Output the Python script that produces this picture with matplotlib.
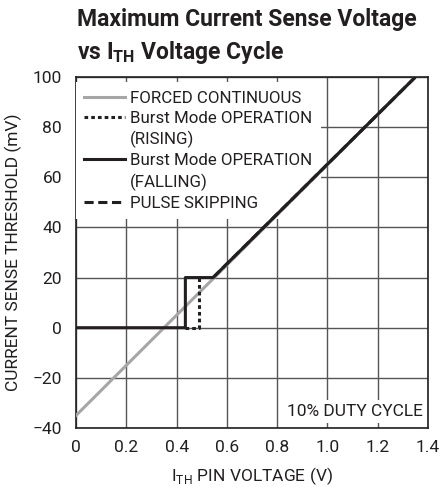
import matplotlib
matplotlib.use('Agg')
import matplotlib.pyplot as plt
from matplotlib.lines import Line2D

# data
fc_x = [0.0, 1.35]
fc_y = [-35.0, 100.0]

rise_x = [0.435, 0.49, 0.49]
rise_y = [0.0, 0.0, 20.0]

fall_x = [0.0, 0.435, 0.435, 0.545, 1.35]
fall_y = [0.0, 0.0, 20.0, 20.0, 100.0]

ps_x = [0.545, 1.35]
ps_y = [20.0, 100.0]

xticks = [0, 0.2, 0.4, 0.6, 0.8, 1.0, 1.2, 1.4]
xlabels = ['0', '0.2', '0.4', '0.6', '0.8', '1.0', '1.2', '1.4']
yticks = [-40, -20, 0, 20, 40, 60, 80, 100]
ylabels = ['\u221240', '\u221220', '0', '20', '40', '60', '80', '100']

fam = ['Roboto', 'DejaVu Sans']
plt.rcParams['font.family'] = fam
plt.rcParams['mathtext.fontset'] = 'custom'
plt.rcParams['mathtext.rm'] = 'Roboto'
plt.rcParams['mathtext.bf'] = 'Roboto:bold'

fs = 12.5
ink = '#231f20'

fig = plt.figure(figsize=(4.4, 4.91), dpi=100)
ax = fig.add_axes([76/440, 1 - 428/491, 352/440, 351/491])

l_fc, = ax.plot(fc_x, fc_y, color='#a6a6a6', lw=2.2, zorder=3)
l_ps, = ax.plot(ps_x, ps_y, color=ink, lw=2.2, ls=(0, (3, 1.5)), zorder=3.5)
l_rise, = ax.plot(rise_x, rise_y, color=ink, lw=2.2, ls=(0, (1.2, 1.0)), zorder=4)
l_fall, = ax.plot(fall_x, fall_y, color=ink, lw=2.2, zorder=5)

ax.set_xlim(0, 1.4)
ax.set_ylim(-40, 100)
ax.set_xticks(xticks)
ax.set_xticklabels(xlabels)
ax.set_yticks(yticks)
ax.set_yticklabels(ylabels)
ax.tick_params(length=0, labelsize=fs, colors=ink)
ax.tick_params(axis='x', pad=9)
ax.tick_params(axis='y', pad=10)
ax.grid(True, color='#555555', lw=1.0)
ax.set_axisbelow(True)
for s in ax.spines.values():
    s.set_color(ink)
    s.set_linewidth(1.2)

ax.set_xlabel('I$_{\\mathregular{TH}}$ PIN VOLTAGE (V)', fontsize=fs, color=ink, labelpad=7)
ax.set_ylabel('CURRENT SENSE THRESHOLD (mV)', fontsize=fs, color=ink, labelpad=8)

# continuation rows get an empty handle so the real handle sits on the first line
blank = Line2D([], [], color='none')
handles = [l_fc, l_rise, blank, l_fall, blank, l_ps]
labels = ['FORCED CONTINUOUS', 'Burst Mode OPERATION', '(RISING)',
          'Burst Mode OPERATION', '(FALLING)', 'PULSE SKIPPING']
leg = ax.legend(handles, labels, loc='upper left',
                bbox_to_anchor=(0.0, 0.985), frameon=True, fancybox=False,
                edgecolor='none', facecolor='white', framealpha=1.0,
                fontsize=12.2, handlelength=2.4, handletextpad=0.3,
                labelspacing=0.3, borderpad=0.5, borderaxespad=0.0)
leg.set_zorder(2.5)
for t in leg.get_texts():
    t.set_color(ink)

ax.text(0.985, 0.025, '10% DUTY CYCLE', transform=ax.transAxes, ha='right', va='bottom',
        fontsize=fs, color=ink, zorder=6,
        bbox=dict(facecolor='white', edgecolor='none', pad=3))

fig.text(77/440, 1 - 8/491, 'Maximum Current Sense Voltage\nvs I$_{\\mathbf{TH}}$ Voltage Cycle',
         ha='left', va='top', fontsize=16.5, fontweight='bold', color=ink,
         linespacing=1.4)

fig.savefig('out.png', dpi=100)
